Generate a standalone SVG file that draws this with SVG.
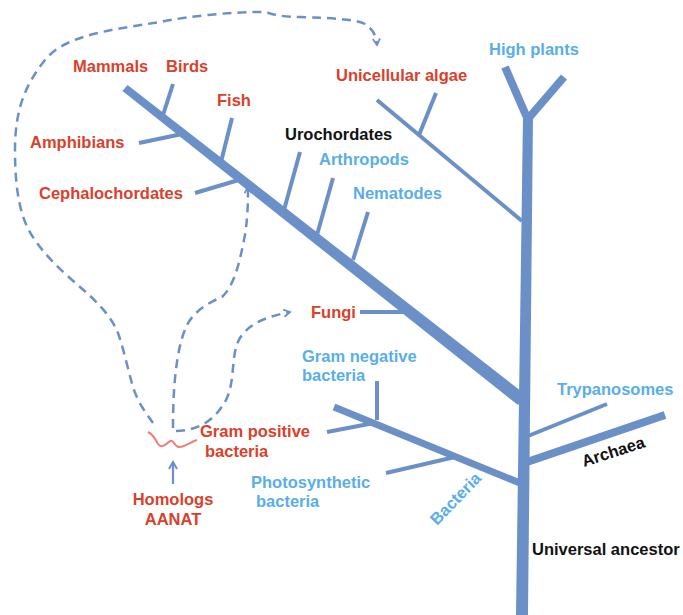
<svg xmlns="http://www.w3.org/2000/svg" width="683" height="615" viewBox="0 0 683 615">
<style>
.br{stroke:#6b90c8;fill:none;stroke-linecap:butt}
.fill{fill:#6b90c8}
.dash{stroke:#6b90c8;fill:none;stroke-width:2.5;stroke-dasharray:9 6}
text{font-family:"Liberation Sans",Arial,sans-serif;font-weight:bold;font-size:16.5px}
.red{fill:#d8412c}
.lb{fill:#5aaee8}
.bk{fill:#111}
</style>
<defs>
<marker id="chev" viewBox="0 0 10 10" refX="8" refY="5" markerWidth="9" markerHeight="9" orient="auto" markerUnits="userSpaceOnUse">
<path d="M1,1 L8,5 L1,9" fill="none" stroke="#6b90c8" stroke-width="2"/>
</marker>
<marker id="tri" viewBox="0 0 10 10" refX="8" refY="5" markerWidth="10" markerHeight="10" orient="auto" markerUnits="userSpaceOnUse">
<path d="M1,1 L8,5 L1,9" fill="none" stroke="#6b90c8" stroke-width="2"/>
</marker>
</defs>
<g id="connectors">
<path class="dash" d="M153,423 C146,413 138,403 133,387 C128,370 124,350 118,333 C112,318 100,305 88,294 C70,278 50,262 35,240 C20,220 15,190 15,150 C15,110 25,85 45,60 C65,35 110,30 160,22 C190,16 230,12 260,12 C270,12 275,17 300,17 C330,18 355,19 365,24 C372,29 376,34 377,45" marker-end="url(#chev)"/>
<path class="dash" d="M173,428 C173,395 175,350 187,325 C195,310 210,302 222,297 C235,285 240,260 245,235 C248,215 248,200 248,187" marker-end="url(#chev)"/>
<path class="dash" d="M176,431 C200,430 215,420 226,400 C236,380 230,355 240,338 C250,322 270,316 290,312" marker-end="url(#chev)"/>
<path d="M148,432 C152,434 155,438 158,444 C162,449 166,444 170,441 C174,439 174,447 179,447 C186,447 190,442 197,440" stroke="#ef7f7a" stroke-width="2" fill="none"/>
<path d="M173,484 L173,462" stroke="#6b90c8" stroke-width="2.2" fill="none" marker-end="url(#tri)"/>
</g>
<g id="tree">
<polygon class="fill" points="516,615 528,615 533,115 523,115"/>
<line class="br" x1="528" y1="120" x2="505" y2="67" stroke-width="8"/>
<line class="br" x1="527" y1="120" x2="564" y2="77" stroke-width="8"/>
<line class="br" x1="377" y1="100" x2="522" y2="221" stroke-width="4"/>
<line class="br" x1="436" y1="93" x2="419" y2="135" stroke-width="4"/>
<polygon class="fill" points="127.5,84.9 122.5,91.1 518,405.1 526,394.9"/>
<line class="br" x1="173" y1="84" x2="163" y2="115" stroke-width="4"/>
<line class="br" x1="139" y1="143" x2="182" y2="134" stroke-width="4"/>
<line class="br" x1="232" y1="118" x2="221" y2="162" stroke-width="4"/>
<line class="br" x1="195" y1="193" x2="242" y2="179" stroke-width="4"/>
<line class="br" x1="300" y1="152" x2="284" y2="210" stroke-width="4"/>
<line class="br" x1="333" y1="178" x2="317" y2="235" stroke-width="4"/>
<line class="br" x1="368" y1="212" x2="353" y2="260" stroke-width="4"/>
<line class="br" x1="360" y1="312" x2="409" y2="312" stroke-width="4"/>
<line class="br" x1="334" y1="407" x2="520" y2="483" stroke-width="7"/>
<line class="br" x1="377" y1="381" x2="377" y2="420" stroke-width="4"/>
<line class="br" x1="327" y1="432" x2="374" y2="423" stroke-width="4"/>
<line class="br" x1="386" y1="473" x2="455" y2="457" stroke-width="4"/>
<line class="br" x1="528" y1="436" x2="607" y2="404" stroke-width="4"/>
<line class="br" x1="527" y1="462" x2="665" y2="415" stroke-width="8"/>
</g>
<g id="labels">
<text class="red" x="73" y="72">Mammals</text>
<text class="red" x="166" y="72">Birds</text>
<text class="red" x="217" y="106">Fish</text>
<text class="red" x="30" y="148">Amphibians</text>
<text class="red" x="39" y="199">Cephalochordates</text>
<text class="bk" x="285" y="140">Urochordates</text>
<text class="lb" x="319" y="165">Arthropods</text>
<text class="lb" x="353" y="199">Nematodes</text>
<text class="red" x="336" y="81">Unicellular algae</text>
<text class="lb" x="489" y="55">High plants</text>
<text class="red" x="311" y="318">Fungi</text>
<text class="lb" x="302" y="362">Gram negative</text>
<text class="lb" x="302" y="381">bacteria</text>
<text class="red" x="200" y="437">Gram positive</text>
<text class="red" x="205" y="457">bacteria</text>
<text class="lb" x="251" y="488">Photosynthetic</text>
<text class="lb" x="256" y="507">bacteria</text>
<text class="red" x="173" y="505" text-anchor="middle">Homologs</text>
<text class="red" x="173" y="525" text-anchor="middle">AANAT</text>
<text class="lb" x="557" y="395">Trypanosomes</text>
<text class="bk" transform="translate(584,467) rotate(-18)">Archaea</text>
<text class="lb" transform="translate(437,526) rotate(-46)">Bacteria</text>
<text class="bk" x="532" y="555">Universal ancestor</text>
</g>
</svg>
